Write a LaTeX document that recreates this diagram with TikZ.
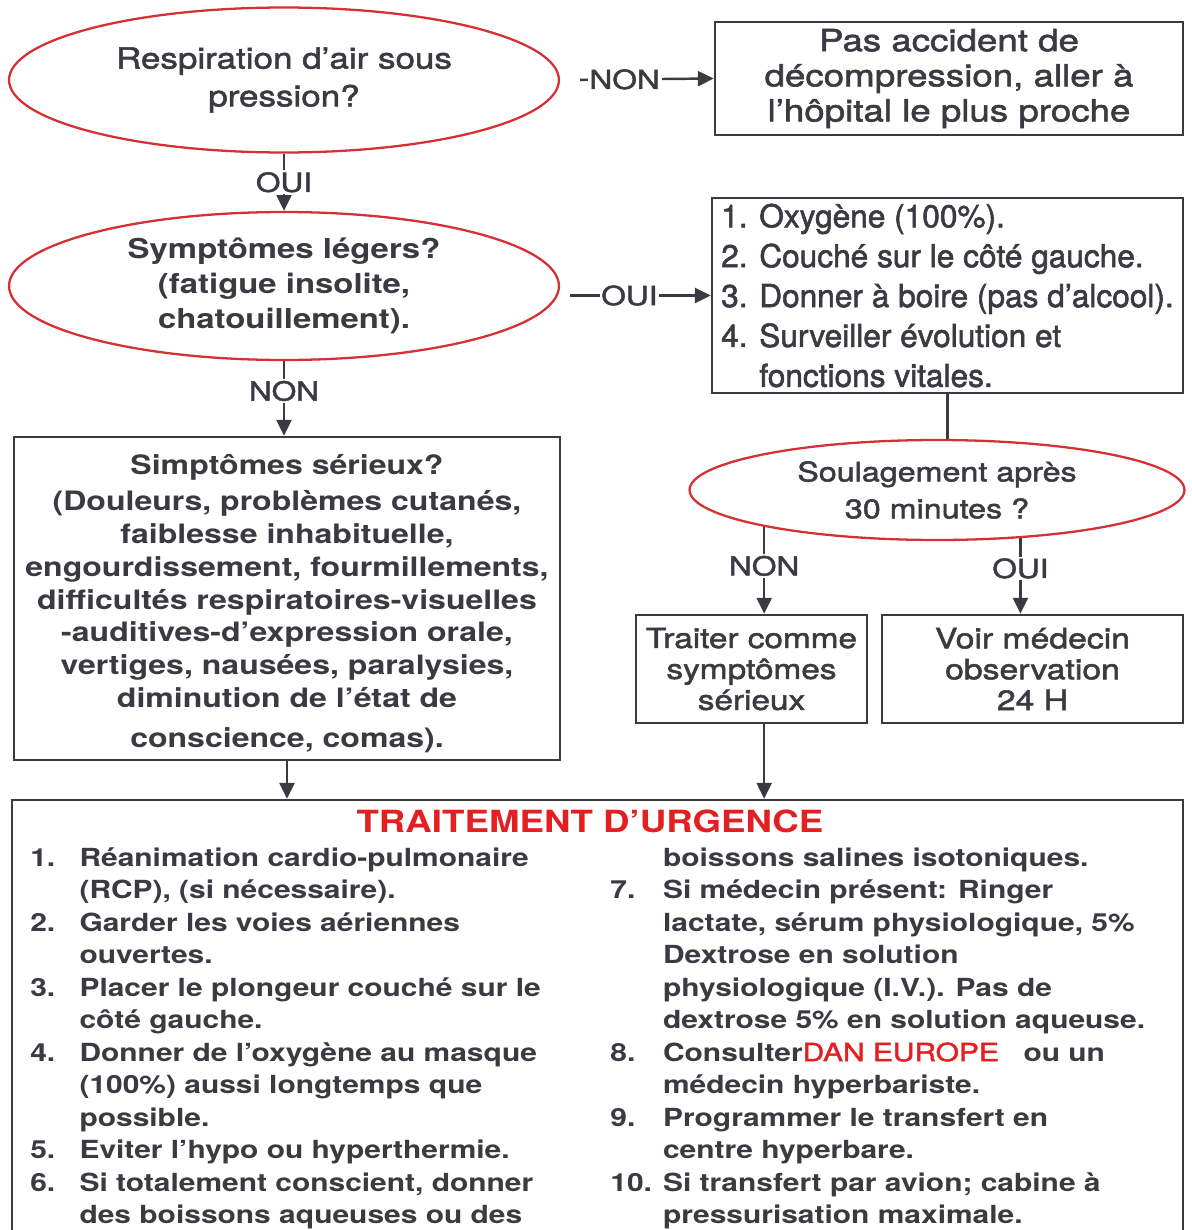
\documentclass[tikz,border=0pt]{standalone}
\usepackage{fontspec}
\setmainfont{TeX Gyre Heros}[FakeStretch=1.2]
\newfontfamily\medhv{TeX Gyre Heros}[FakeStretch=1.2, FakeBold=1.8]
\newfontfamily\narrowhv{TeX Gyre Heros}[FakeBold=1.8]
\usetikzlibrary{arrows.meta, shapes.geometric, calc}
\definecolor{askred}{RGB}{214,48,52}
\definecolor{inkgray}{RGB}{58,58,66}
\definecolor{urgred}{RGB}{226,32,36}
% Styles for questions, boxes and connectors
\tikzset{ask/.style={ellipse, draw=askred, line width=1.3pt, fill=white, inner sep=0pt, align=center}}
\tikzset{box/.style={rectangle, draw=inkgray, line width=1.5pt, inner sep=0pt, align=center}}
\tikzset{link/.style={draw=inkgray, line width=1.4pt}}
\tikzset{arr/.style={link, -{Triangle[length=9pt, width=8.5pt]}}}
\tikzset{yesno/.style={fill=white, inner sep=1pt, font=\medhv\fontsize{15}{18}\selectfont}}

\begin{document}
\begin{tikzpicture}[x=0.02cm, y=-0.02cm, color=inkgray]
		\useasboundingbox (0,0) rectangle (1192,1230);
		
		% Questions
		\node[ask, minimum width=11cm, minimum height=2.9cm, font=\medhv\fontsize{16.6}{21.5}\selectfont] (ask1) at (284,80) {Respiration d’air sous\\pression?};
		\node[ask, minimum width=11cm, minimum height=2.96cm, font=\bfseries\fontsize{15.6}{20}\selectfont] (ask2) at (284,286) {Symptômes légers?\\(fatigue insolite,\\chatouillement).};
		\node[ask, minimum width=9.9cm, minimum height=2cm, font=\medhv\fontsize{15.3}{21}\selectfont] (relief) at (937,490) {Soulagement après\\30 minutes ?};
		
		% Answers
		\node[box, minimum width=9.36cm, minimum height=2.26cm, font=\medhv\fontsize{17.4}{20}\selectfont] (safe) at (949,78.5) {Pas accident de\\décompression, aller à\\l’hôpital le plus proche};
		\node[box, minimum width=9.42cm, minimum height=3.9cm, align=left, font=\narrowhv\fontsize{18}{22.7}\selectfont] (care) at (947.5,295.5) {1. Oxygène (100\%).\\2. Couché sur le côté gauche.\\3. Donner à boire (pas d’alcool).\\4. Surveiller évolution et\\\phantom{4. }fonctions vitales.};
		\node[box, minimum width=10.92cm, minimum height=6.46cm, font=\bfseries\fontsize{15.2}{18.7}\selectfont] (serious) at (287,598.5) {\rule{0pt}{17pt}Simptômes sérieux?\\[2pt](Douleurs, problèmes cutanés,\\faiblesse inhabituelle,\\engourdissement, fourmillements,\\difficultés respiratoires-visuelles\\-auditives-d’expression orale,\\vertiges, nausées, paralysies,\\diminution de l’état de\\[4pt]conscience, comas).};
		\node[box, minimum width=4.62cm, minimum height=2.16cm, font=\medhv\fontsize{15.8}{17.6}\selectfont] (treat) at (751.5,669) {Traiter comme\\symptômes\\sérieux};
		\node[box, minimum width=6.02cm, minimum height=2.16cm, font=\medhv\fontsize{16}{17.6}\selectfont] (doctor) at (1032.5,669) {Voir médecin\\observation\\24 H};
		
		% Emergency treatment (bottom edge runs off the page)
		\node[box, minimum width=23.42cm, minimum height=9cm] (urg) at (597.5,1025) {};
		\node[text=urgred, font=\bfseries\fontsize{17.4}{20}\selectfont] (urgtitle) at (590,821) {TRAITEMENT D’URGENCE};
		\node[anchor=north west, inner sep=0pt, font=\bfseries\fontsize{14.2}{18.5}\selectfont] (urgleft) at (30,843) {%
			\begin{tabular}{@{}p{28pt}@{}l@{}}
				1. & Réanimation cardio-pulmonaire\\
				   & (RCP), (si nécessaire).\\
				2. & Garder les voies aériennes\\
				   & ouvertes.\\
				3. & Placer le plongeur couché sur le\\
				   & côté gauche.\\
				4. & Donner de l’oxygène au masque\\
				   & (100\%) aussi longtemps que\\
				   & possible.\\
				5. & Eviter l’hypo ou hyperthermie.\\
				6. & Si totalement conscient, donner\\
				   & des boissons aqueuses ou des
			\end{tabular}};
		\node[anchor=north west, inner sep=0pt, font=\bfseries\fontsize{14.2}{18.5}\selectfont] (urgright) at (610,843) {%
			\begin{tabular}{@{}p{30pt}@{}l@{}}
				   & boissons salines isotoniques.\\
				7. & Si médecin présent: Ringer\\
				   & lactate, sérum physiologique, 5\%\\
				   & Dextrose en solution\\
				   & physiologique (I.V.). Pas de\\
				   & dextrose 5\% en solution aqueuse.\\
				8. & Consulter\textcolor{urgred}{\mdseries\medhv DAN EUROPE}\hspace{14pt}ou un\\
				   & médecin hyperbariste.\\
				9. & Programmer le transfert en\\
				   & centre hyperbare.\\
				10. & Si transfert par avion; cabine à\\
				   & pressurisation maximale.
			\end{tabular}};
		
		% Connectors
		\draw[arr, shorten <=0.4cm] (ask1.east) -- node[yesno, pos=0.42] {NON} (safe.west);
		\draw[arr] (ask1.south) -- node[yesno] {OUI} (ask2.north);
		\draw[arr, shorten <=0.2cm] (care.west -| ask2.east) -- node[yesno, pos=0.46] {OUI} (care.west);
		\draw[arr] (ask2.south) -- node[yesno, pos=0.4] {NON} (ask2.south |- serious.north);
		\draw[link] (care.south) -- (care.south |- relief.north);
		\draw[arr] (relief.192) -- node[yesno, pos=0.45] {NON} (relief.192 |- treat.north);
		\draw[arr] (relief.330) -- node[yesno, pos=0.4] {OUI} (relief.330 |- doctor.north);
		\draw[arr] (serious.south) -- (serious.south |- urg.north);
		\draw[arr] (relief.192 |- treat.south) -- (relief.192 |- urg.north);
	\end{tikzpicture}
\end{document}
